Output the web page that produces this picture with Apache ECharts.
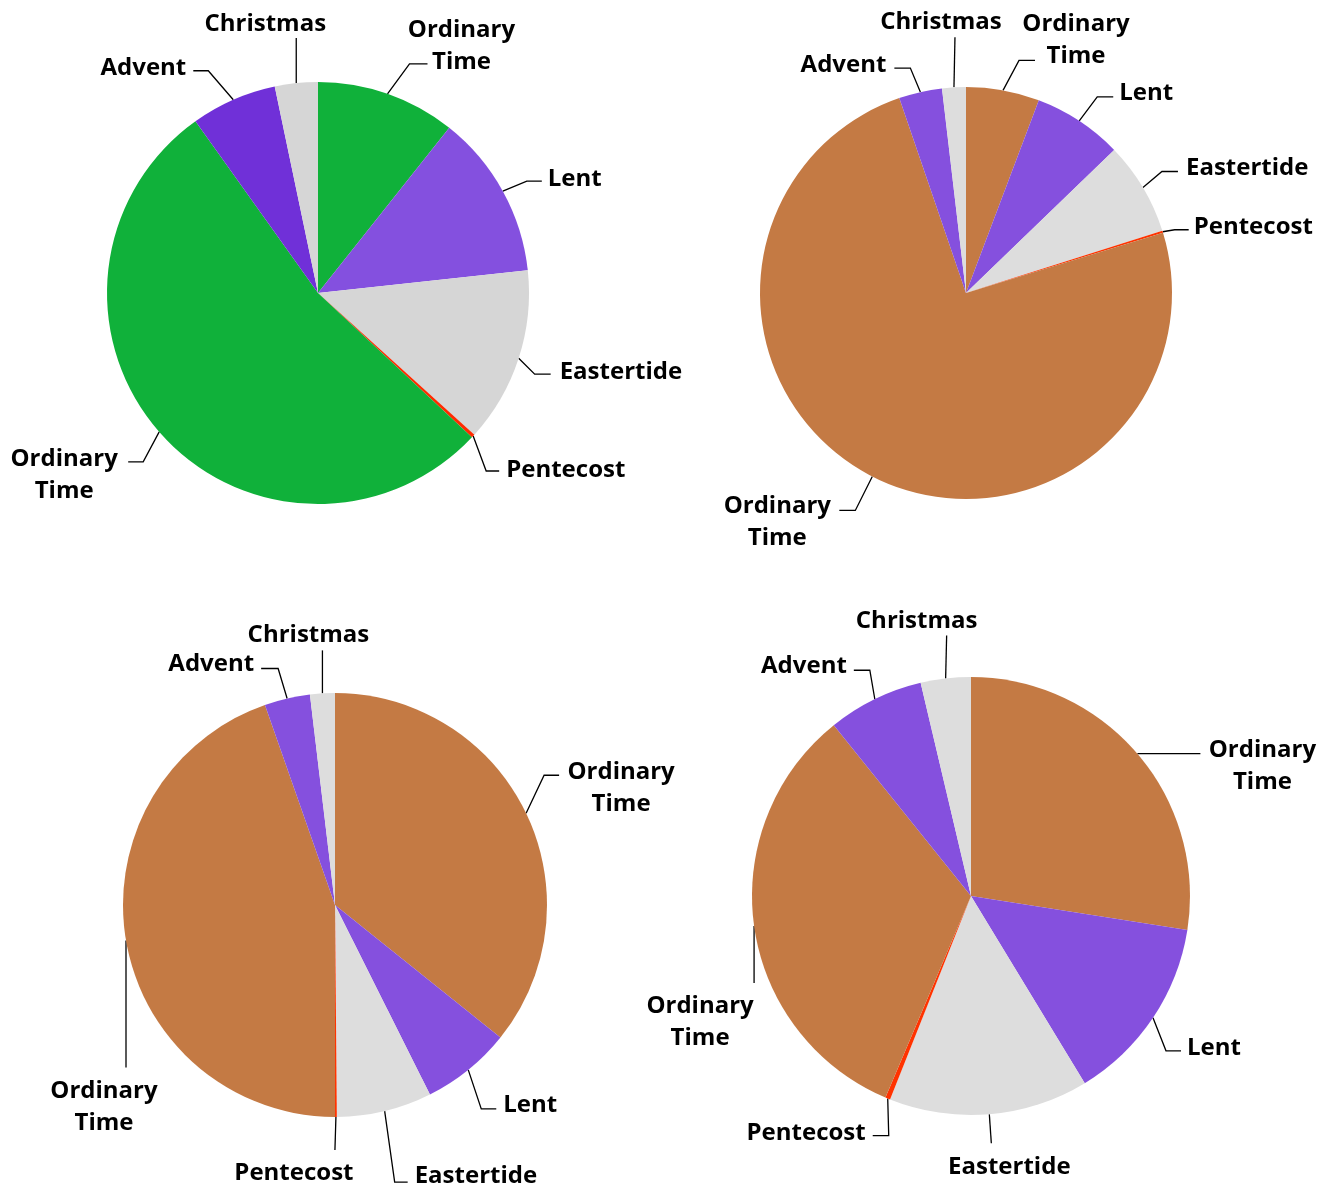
<!DOCTYPE html>
<html>
<head>
<meta charset="utf-8">
<script src="https://cdn.jsdelivr.net/npm/echarts@6/dist/echarts.min.js"></script>
<style>
html,body{margin:0;padding:0;background:#fff;}
#chart{width:1330px;height:1189px;}
</style>
</head>
<body>
<div id="chart"></div>
<script>
// Seasons, clockwise from 12 o'clock
const seasons = ["Ordinary Time", "Lent", "Eastertide", "Pentecost", "Ordinary Time", "Advent", "Christmas"];

// Values per chart
const chart1Values = [39, 46, 49, 1, 194, 24, 12];
const chart2Values = [20.7, 25.3, 26.4, 0.6, 268.1, 12.2, 6.7];
const chart3Values = [128.7, 24.7, 26.1, 0.5, 160.7, 12.5, 6.8];
const chart4Values = [98.9, 49.8, 53.0, 1.3, 118.2, 25.5, 13.3];

const colorsGreen = ["#10B13A", "#8450DF", "#D6D6D6", "#FF2A00", "#10B13A", "#7030D8", "#D6D6D6"];
const colorsBrown = ["#C47A44", "#8550DE", "#DDDDDD", "#FF3300", "#C47A44", "#8550DE", "#DDDDDD"];

// Leader-line styling per label, relative to the rim point the library computes:
// [elbowDx, elbowDy, horizontalLen, textDx, textDy, textAlign]
const leaders1 = [
  [22, -30, 18, 34, -18, 'center'],
  [24, -10, 15, 6, -2, 'left'],
  [16, 16, 16, 9, -2, 'left'],
  [13, 35, 13, 7, -1, 'left'],
  [-16, 30, -15, -64, 13, 'center'],
  [-25, -29, -15, -7, -3, 'right'],
  [0, -45, 0, -31, -14, 'center']
];
const leaders2 = [
  [16, -30, 16, 41, -20, 'center'],
  [18, -24, 16, 6, -4, 'left'],
  [19, -16, 16, 8, -3, 'left'],
  [12, -2, 14, 5, -3, 'left'],
  [-17, 34, -16, -62, 12, 'center'],
  [-10, -24, -16, -8, -3, 'right'],
  [1, -50, 0, -14, -15, 'center']
];
const leaders3 = [
  [18, -38, 15, 62, 13, 'center'],
  [13, 39, 15, 7, -4, 'left'],
  [10, 71, 13, 7, -6, 'left'],
  [-1, 33, 0, -41, 23, 'center'],
  [0, 127, 0, -22, 40, 'center'],
  [-9, -30, -17, -7, -4, 'right'],
  [0, -43, 0, -14, -15, 'center']
];
const leaders4 = [
  [0, 0, 63, 62, 13, 'center'],
  [13, 33, 15, 6, -3, 'left'],
  [2, 29, 0, 18, 24, 'center'],
  [1, 37, -16, -7, -2, 'right'],
  [0, 57, 0, -54, 39, 'center'],
  [-5, -29, -16, -7, -4, 'right'],
  [1, -43, 0, -30, -14, 'center']
];

const FONT = { color: '#000', fontFamily: 'Open Sans', fontWeight: 'bold', fontSize: 24, lineHeight: 32 };

function makeSeries(values, colors, center, radius, leaders) {
  return {
    type: 'pie',
    center: center,
    radius: radius,
    startAngle: 90,
    clockwise: true,
    animation: false,
    avoidLabelOverlap: false,
    itemStyle: { borderWidth: 0 },
    emphasis: { disabled: true },
    label: Object.assign({
      show: true,
      position: 'outside',
      overflow: 'none',
      formatter: function (p) {
        return p.name.split(' ').map(function (w) { return '{c|' + w + '}'; }).join('\n');
      },
      rich: {
        c: Object.assign({ align: 'center' }, FONT)
      }
    }, FONT),
    labelLine: {
      show: true,
      length: 24,
      length2: 15,
      lineStyle: { color: '#000', width: 1.3 }
    },
    labelLayout: function (params) {
      const s = leaders[params.dataIndex];
      const pts = params.labelLinePoints;
      if (!s || !pts) return {};
      const p0 = pts[0];
      const e = [p0[0] + s[0], p0[1] + s[1]];
      const end = [e[0] + s[2], e[1]];
      return {
        x: end[0] + s[3],
        y: end[1] + s[4],
        align: s[5],
        verticalAlign: 'middle',
        labelLinePoints: [p0, e, end]
      };
    },
    data: seasons.map(function (n, i) {
      return { name: n, value: values[i], itemStyle: { color: colors[i] } };
    })
  };
}

const chart = echarts.init(document.getElementById('chart'), null, { renderer: 'canvas' });
chart.setOption({
  backgroundColor: '#fff',
  animation: false,
  series: [
    makeSeries(chart1Values, colorsGreen, [318, 293], 211, leaders1),
    makeSeries(chart2Values, colorsBrown, [966, 293], 206, leaders2),
    makeSeries(chart3Values, colorsBrown, [335, 905], 212, leaders3),
    makeSeries(chart4Values, colorsBrown, [971, 896], 219, leaders4)
  ]
});
</script>
</body>
</html>
